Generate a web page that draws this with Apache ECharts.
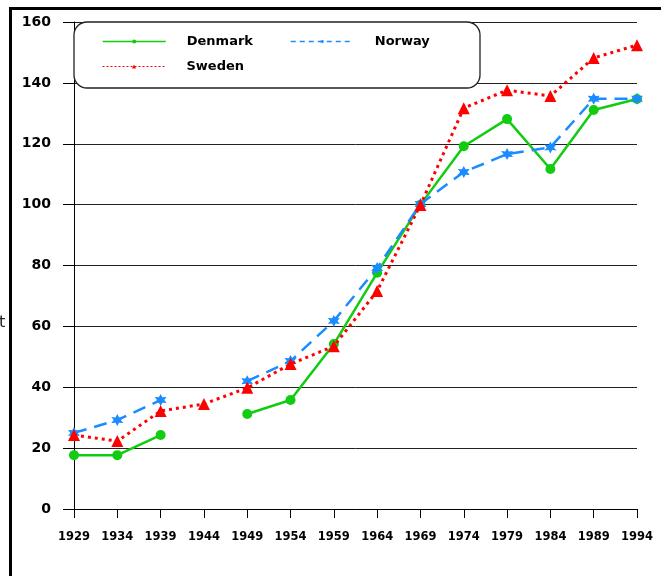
<!DOCTYPE html>
<html>
<head>
<meta charset="utf-8">
<script src="https://cdn.jsdelivr.net/npm/echarts@6/dist/echarts.min.js"></script>
<style>
html,body{margin:0;padding:0;background:#fff;}
#chart{width:661px;height:576px;}
</style>
</head>
<body>
<div id="chart"></div>
<script>
const years = ['1929','1934','1939','1944','1949','1954','1959','1964','1969','1974','1979','1984','1989','1994'];
const denmark = [17.7, 17.7, 24.3, null, 31.2, 35.8, 54.2, 77.6, 100, 119.2, 128.1, 111.7, 131.1, 134.7];
const norway  = [25.0, 29.2, 35.8, null, 42.0, 48.6, 61.8, 79.2, 100.2, 110.7, 116.6, 118.8, 134.8, 134.8];
const sweden  = [24.3, 22.3, 32.2, 34.5, 39.8, 47.6, 53.5, 71.6, 99.9, 131.7, 137.6, 135.7, 148.2, 152.4];
const yTicks = { min: 0, max: 160, interval: 20 };

const FONT = '"DejaVu Sans", sans-serif';
const starPath = 'path://M0,-10 L2.6,-4.5 L8.7,-5 L5.2,0 L8.7,5 L2.6,4.5 L0,10 L-2.6,4.5 L-8.7,5 L-5.2,0 L-8.7,-5 L-2.6,-4.5 Z';

const chart = echarts.init(document.getElementById('chart'));
const legendText = { fontFamily: FONT, fontWeight: 'bold', fontSize: 13, color: '#000', padding: [3, 0, 0, 16] };
function mkLegend(name, left, top, dash, w) {
  return { data: [name], left: left, top: top, padding: 0, itemWidth: 63, itemHeight: 5,
           lineStyle: { width: w, type: dash },
           textStyle: legendText, selectedMode: false, z: 20 };
}
chart.setOption({
  animation: false,
  backgroundColor: '#fff',
  grid: { left: 74, right: 24, top: 22, bottom: 67 },
  legend: [
    mkLegend('Denmark', 102, 35, 'solid', 1.5),
    mkLegend('Norway', 290, 35, [5, 4], 1.5),
    mkLegend('Sweden', 102, 60, [2, 2], 1)
  ],
  xAxis: {
    type: 'category', data: years, boundaryGap: false,
    axisLine: { lineStyle: { color: '#000', width: 1 } },
    axisTick: { show: true, length: 9, alignWithLabel: true, lineStyle: { color: '#000' } },
    axisLabel: { color: '#000', fontFamily: FONT, fontWeight: 'bold', fontSize: 11.5, margin: 22, interval: 0 },
    splitLine: { show: false }
  },
  yAxis: {
    type: 'value', min: yTicks.min, max: yTicks.max, interval: yTicks.interval,
    axisLine: { show: true, lineStyle: { color: '#000', width: 1 } },
    axisTick: { show: true, length: 11, lineStyle: { color: '#000' } },
    axisLabel: { color: '#000', fontFamily: FONT, fontWeight: 'bold', fontSize: 14, margin: 23 },
    splitLine: { show: true, lineStyle: { color: '#222', width: 1 } }
  },
  graphic: [
    { type: 'rect', shape: { x: 74, y: 22, width: 406, height: 66, r: 13 },
      style: { fill: '#fff', stroke: '#222', lineWidth: 1.3 }, z: 10 },
    { type: 'line', shape: { x1: 10.5, y1: 7, x2: 10.5, y2: 576 }, style: { stroke: '#000', lineWidth: 3 }, z: 10 },
    { type: 'line', shape: { x1: 9, y1: 8.5, x2: 661, y2: 8.5 }, style: { stroke: '#000', lineWidth: 3 }, z: 10 },
    { type: 'text', left: -1, top: 315, style: { text: 't', font: '16px "DejaVu Sans", sans-serif', fill: '#222' }, z: 10 }
  ],
  series: [
    { name: 'Denmark', type: 'line', data: denmark, connectNulls: false,
      symbol: 'circle', symbolSize: 10, showAllSymbol: true,
      lineStyle: { color: '#11cc11', width: 2.5, type: 'solid' },
      itemStyle: { color: '#11cc11' }, z: 3 },
    { name: 'Norway', type: 'line', data: norway, connectNulls: false,
      symbol: starPath, symbolSize: 12, showAllSymbol: true,
      lineStyle: { color: '#1a8cff', width: 2.5, type: [13, 8] },
      itemStyle: { color: '#1a8cff' }, z: 4 },
    { name: 'Sweden', type: 'line', data: sweden, connectNulls: false,
      symbol: 'triangle', symbolSize: 12, showAllSymbol: true,
      lineStyle: { color: '#ff0000', width: 3, type: [3, 4] },
      itemStyle: { color: '#ff0000' }, z: 5 }
  ]
});
</script>
</body>
</html>
